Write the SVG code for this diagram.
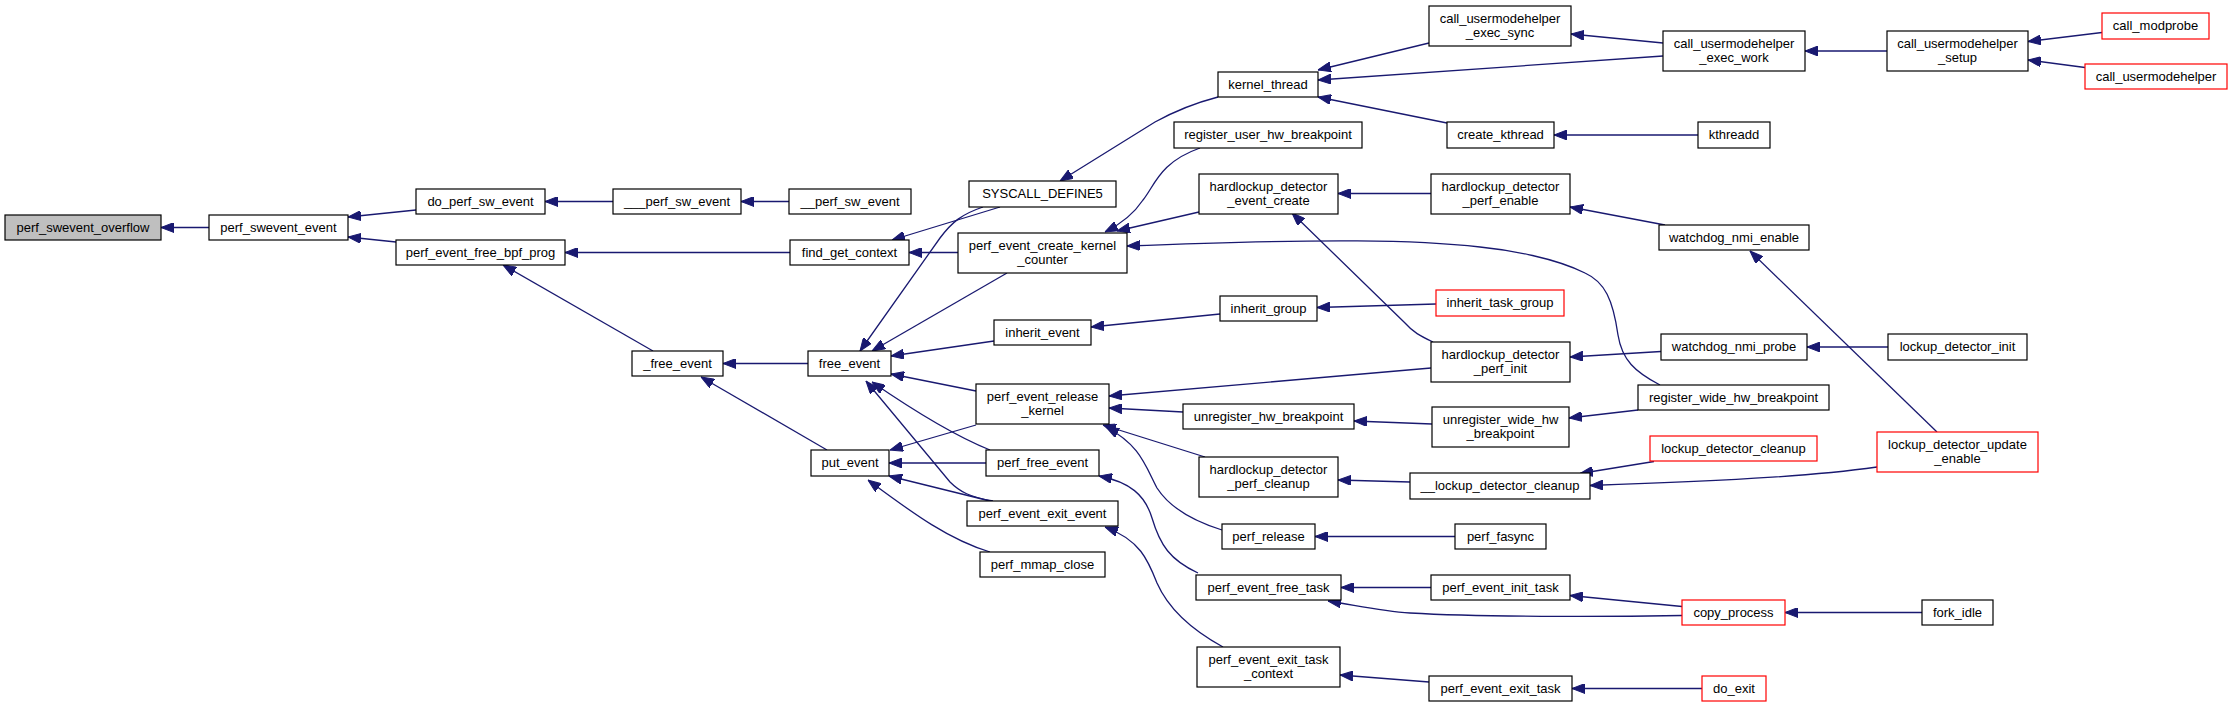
<svg xmlns="http://www.w3.org/2000/svg" width="2232" height="707" viewBox="0 0 2232 707">
<defs>
<style>
.n rect{fill:#fff;stroke:#000;stroke-width:1.2}
.n.root rect{fill:#bfbfbf}
.n.red rect{stroke:#ff0000}
.n text{font-family:"Liberation Sans",Helvetica,Arial,sans-serif;font-size:13px;fill:#000;text-anchor:middle}
.e path{fill:none;stroke:#191970;stroke-width:1.3;marker-end:url(#ah)}
</style>
<marker id="ah" viewBox="0 0 13 10" refX="13" refY="5" markerWidth="13" markerHeight="10" markerUnits="userSpaceOnUse" orient="auto">
<path d="M0,0 L13,5 L0,10 z" fill="#191970" stroke="#191970" stroke-width="1"/>
</marker>
</defs>
<rect width="2232" height="707" fill="#fff"/>
<g id="edges" class="e">
<path d="M209,227.5 L161,227.5"/>
<path d="M416,210 L348,217"/>
<path d="M396,242 L348,237"/>
<path d="M613,201.5 L545,201.5"/>
<path d="M789,201.5 L741,201.5"/>
<path d="M790,252.5 L565,252.5"/>
<path d="M653,351 L503,265"/>
<path d="M808,363.5 L723,363.5"/>
<path d="M827,450 L701,377"/>
<path d="M1000,207 L892,240"/>
<path d="M958,252.5 L909,252.5"/>
<path d="M983,207 C962,214 952,222 940,238 L860,351"/>
<path d="M1007,273 L872,351"/>
<path d="M994,341 L891,356"/>
<path d="M976,391 L891,374"/>
<path d="M990,450 C960,438 920,415 872,382"/>
<path d="M993,501 C970,497 960,492 950,482 L866,381"/>
<path d="M976,425 L890,450"/>
<path d="M986,463 L889,463"/>
<path d="M990,501 L889,476"/>
<path d="M990,552 C950,540 915,515 868,480"/>
<path d="M1218,97 C1195,103 1175,111 1155,122 L1060,181"/>
<path d="M1200,148 C1160,162 1155,185 1143,200 C1135,212 1125,222 1105,232"/>
<path d="M1199,212 L1117,231"/>
<path d="M1660,385 C1635,372 1622,360 1618,335 C1613,300 1605,282 1585,273 C1555,258 1510,250 1480,247 C1420,240 1330,238 1127,246"/>
<path d="M1431,193.5 L1338,193.5"/>
<path d="M1433,342 C1420,336 1413,332 1405,323 L1292,213"/>
<path d="M1436,304 L1317,307.5"/>
<path d="M1220,314 L1091,327"/>
<path d="M1429,43 L1318,70"/>
<path d="M1663,56 L1318,80"/>
<path d="M1447,123 L1318,97"/>
<path d="M1663,43 L1571,34"/>
<path d="M1698,135 L1554,135"/>
<path d="M1665,225 L1570,207"/>
<path d="M1661,351.5 L1570,357"/>
<path d="M1887,51 L1805,51"/>
<path d="M2102,32.5 L2028,41.5"/>
<path d="M2085,67.5 L2028,60"/>
<path d="M1888,347 L1807,347"/>
<path d="M1937,432 L1750,251"/>
<path d="M1431,368 L1109,396"/>
<path d="M1183,412 L1109,408"/>
<path d="M1205,457 L1103,425"/>
<path d="M1222,530 C1190,520 1168,505 1157,488 C1145,465 1140,445 1106,427"/>
<path d="M1432,424 L1354,421"/>
<path d="M1638,410 L1569,418"/>
<path d="M1410,482 L1338,480"/>
<path d="M1654,461.5 L1580,473.5"/>
<path d="M1877,467 C1820,475 1750,480 1590,485.5"/>
<path d="M1455,536.5 L1315,536.5"/>
<path d="M1431,587.5 L1341,587.5"/>
<path d="M1682,606.5 L1570,595.5"/>
<path d="M1682,615.5 C1600,617 1480,617 1410,613 C1380,611 1355,605 1328,601"/>
<path d="M1922,612.5 L1785,612.5"/>
<path d="M1702,688.5 L1572,688.5"/>
<path d="M1429,682 L1340,675"/>
<path d="M1198,573 C1170,560 1160,545 1152,518 C1145,495 1130,482 1099,476"/>
<path d="M1223,647 C1192,630 1168,608 1157,583 C1148,560 1140,540 1105,527"/>
</g>
<g id="n1" class="n root"><rect x="5" y="215" width="156" height="25"/><text x="83" y="232">perf_swevent_overflow</text></g>
<g id="n2" class="n"><rect x="209" y="215" width="139" height="25"/><text x="278.5" y="232">perf_swevent_event</text></g>
<g id="n3" class="n"><rect x="416" y="189" width="129" height="25"/><text x="480.5" y="206">do_perf_sw_event</text></g>
<g id="n4" class="n"><rect x="396" y="240" width="169" height="25"/><text x="480.5" y="257">perf_event_free_bpf_prog</text></g>
<g id="n5" class="n"><rect x="613" y="189" width="128" height="25"/><text x="677" y="206">___perf_sw_event</text></g>
<g id="n6" class="n"><rect x="632" y="351" width="91" height="25"/><text x="677.5" y="368">_free_event</text></g>
<g id="n7" class="n"><rect x="789" y="189" width="122" height="25"/><text x="850" y="206">__perf_sw_event</text></g>
<g id="n8" class="n"><rect x="790" y="240" width="119" height="25"/><text x="849.5" y="257">find_get_context</text></g>
<g id="n9" class="n"><rect x="808" y="351" width="83" height="25"/><text x="849.5" y="368">free_event</text></g>
<g id="n10" class="n"><rect x="811" y="450" width="78" height="26"/><text x="850" y="467">put_event</text></g>
<g id="n11" class="n"><rect x="969" y="181" width="147" height="26"/><text x="1042.5" y="198">SYSCALL_DEFINE5</text></g>
<g id="n12" class="n"><rect x="958" y="233" width="169" height="40"/><text x="1042.5" y="249.5">perf_event_create_kernel</text><text x="1042.5" y="263.5">_counter</text></g>
<g id="n13" class="n"><rect x="994" y="320" width="97" height="25"/><text x="1042.5" y="337">inherit_event</text></g>
<g id="n14" class="n"><rect x="976" y="384" width="133" height="40"/><text x="1042.5" y="400.5">perf_event_release</text><text x="1042.5" y="414.5">_kernel</text></g>
<g id="n15" class="n"><rect x="986" y="450" width="113" height="26"/><text x="1042.5" y="467">perf_free_event</text></g>
<g id="n16" class="n"><rect x="967" y="501" width="151" height="25"/><text x="1042.5" y="518">perf_event_exit_event</text></g>
<g id="n17" class="n"><rect x="980" y="552" width="125" height="25"/><text x="1042.5" y="569">perf_mmap_close</text></g>
<g id="n18" class="n"><rect x="1218" y="72" width="100" height="25"/><text x="1268" y="89">kernel_thread</text></g>
<g id="n19" class="n"><rect x="1174" y="122" width="188" height="26"/><text x="1268" y="139">register_user_hw_breakpoint</text></g>
<g id="n20" class="n"><rect x="1199" y="174" width="139" height="40"/><text x="1268.5" y="190.5">hardlockup_detector</text><text x="1268.5" y="204.5">_event_create</text></g>
<g id="n21" class="n"><rect x="1220" y="296" width="97" height="25"/><text x="1268.5" y="313">inherit_group</text></g>
<g id="n22" class="n"><rect x="1183" y="404" width="171" height="25"/><text x="1268.5" y="421">unregister_hw_breakpoint</text></g>
<g id="n23" class="n"><rect x="1199" y="457" width="139" height="40"/><text x="1268.5" y="473.5">hardlockup_detector</text><text x="1268.5" y="487.5">_perf_cleanup</text></g>
<g id="n24" class="n"><rect x="1222" y="524" width="93" height="25"/><text x="1268.5" y="541">perf_release</text></g>
<g id="n25" class="n"><rect x="1196" y="575" width="145" height="25"/><text x="1268.5" y="592">perf_event_free_task</text></g>
<g id="n26" class="n"><rect x="1197" y="647" width="143" height="40"/><text x="1268.5" y="663.5">perf_event_exit_task</text><text x="1268.5" y="677.5">_context</text></g>
<g id="n27" class="n"><rect x="1429" y="6" width="142" height="40"/><text x="1500" y="22.5">call_usermodehelper</text><text x="1500" y="36.5">_exec_sync</text></g>
<g id="n28" class="n"><rect x="1447" y="122" width="107" height="26"/><text x="1500.5" y="139">create_kthread</text></g>
<g id="n29" class="n"><rect x="1431" y="174" width="139" height="40"/><text x="1500.5" y="190.5">hardlockup_detector</text><text x="1500.5" y="204.5">_perf_enable</text></g>
<g id="n30" class="n red"><rect x="1436" y="290" width="128" height="26"/><text x="1500" y="307">inherit_task_group</text></g>
<g id="n31" class="n"><rect x="1431" y="342" width="139" height="40"/><text x="1500.5" y="358.5">hardlockup_detector</text><text x="1500.5" y="372.5">_perf_init</text></g>
<g id="n32" class="n"><rect x="1432" y="407" width="137" height="40"/><text x="1500.5" y="423.5">unregister_wide_hw</text><text x="1500.5" y="437.5">_breakpoint</text></g>
<g id="n33" class="n"><rect x="1410" y="473" width="180" height="26"/><text x="1500" y="490">__lockup_detector_cleanup</text></g>
<g id="n34" class="n"><rect x="1455" y="524" width="91" height="25"/><text x="1500.5" y="541">perf_fasync</text></g>
<g id="n35" class="n"><rect x="1431" y="575" width="139" height="25"/><text x="1500.5" y="592">perf_event_init_task</text></g>
<g id="n36" class="n"><rect x="1429" y="676" width="143" height="25"/><text x="1500.5" y="693">perf_event_exit_task</text></g>
<g id="n37" class="n"><rect x="1663" y="31" width="142" height="40"/><text x="1734" y="47.5">call_usermodehelper</text><text x="1734" y="61.5">_exec_work</text></g>
<g id="n38" class="n"><rect x="1698" y="122" width="72" height="26"/><text x="1734" y="139">kthreadd</text></g>
<g id="n39" class="n"><rect x="1659" y="225" width="150" height="25"/><text x="1734" y="242">watchdog_nmi_enable</text></g>
<g id="n40" class="n"><rect x="1661" y="334" width="146" height="26"/><text x="1734" y="351">watchdog_nmi_probe</text></g>
<g id="n41" class="n"><rect x="1638" y="385" width="191" height="25"/><text x="1733.5" y="402">register_wide_hw_breakpoint</text></g>
<g id="n42" class="n red"><rect x="1650" y="436" width="167" height="25"/><text x="1733.5" y="453">lockup_detector_cleanup</text></g>
<g id="n43" class="n red"><rect x="1682" y="600" width="103" height="25"/><text x="1733.5" y="617">copy_process</text></g>
<g id="n44" class="n red"><rect x="1702" y="676" width="64" height="25"/><text x="1734" y="693">do_exit</text></g>
<g id="n45" class="n"><rect x="1887" y="31" width="141" height="40"/><text x="1957.5" y="47.5">call_usermodehelper</text><text x="1957.5" y="61.5">_setup</text></g>
<g id="n46" class="n"><rect x="1888" y="334" width="139" height="26"/><text x="1957.5" y="351">lockup_detector_init</text></g>
<g id="n47" class="n red"><rect x="1877" y="432" width="161" height="40"/><text x="1957.5" y="448.5">lockup_detector_update</text><text x="1957.5" y="462.5">_enable</text></g>
<g id="n48" class="n"><rect x="1922" y="600" width="71" height="25"/><text x="1957.5" y="617">fork_idle</text></g>
<g id="n49" class="n red"><rect x="2102" y="13" width="107" height="26"/><text x="2155.5" y="30">call_modprobe</text></g>
<g id="n50" class="n red"><rect x="2085" y="64" width="142" height="25"/><text x="2156" y="81">call_usermodehelper</text></g>
</svg>
